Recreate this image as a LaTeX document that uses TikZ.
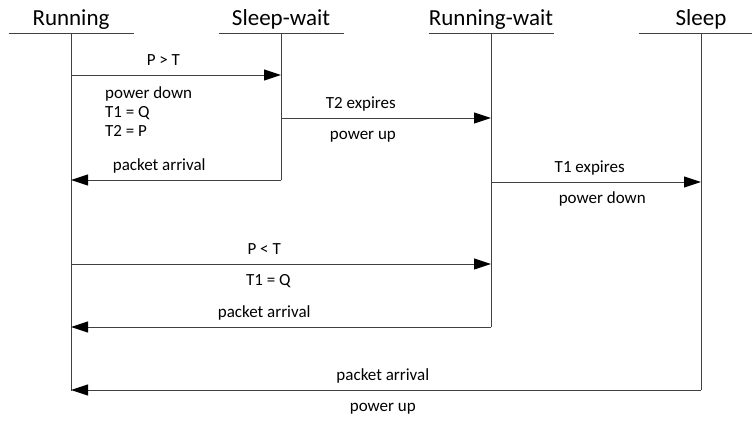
\documentclass[tikz,border=0pt]{standalone}
\usepackage{fontspec}
\setmainfont{Carlito}
\usetikzlibrary{arrows.meta,positioning}

\begin{document}
\begin{tikzpicture}[x=1pt,y=-1pt,>={Triangle[length=17pt,width=11pt,black]},node distance=210pt,
  hdr/.style={font=\fontsize{23}{28}\selectfont,text height=16pt,text depth=5pt,inner sep=0pt},
  lbl/.style={font=\fontsize{17}{19}\selectfont,text height=12pt,text depth=4pt,inner sep=2pt},
  blk/.style={font=\fontsize{17}{19}\selectfont,inner sep=2pt,align=left},
  life/.style={draw=black!75,line width=1pt},
  msg/.style={life,->}]
  \useasboundingbox (0,0) rectangle (752,421);

  % state headers
  \node[hdr]                 (run)   at (71,19.5) {Running};
  \node[hdr, right of=run]   (swait) {Sleep-wait};
  \node[hdr, right of=swait] (rwait) {Running-wait};
  \node[hdr, right of=rwait] (sleep) {Sleep};

  % bars and lifelines
  \foreach \n/\e in {run/391,swait/180,rwait/327,sleep/390}{
    \draw[life] (\n |- 0,33) ++(-62.5,0) -- ++(125,0);
    \draw[life] (\n |- 0,33) -- (\n |- 0,\e);
  }

  % transitions
  \draw[msg] (run |- 0,75) -- node[lbl,above=3pt,pos=0.44] {P > T} (swait |- 0,75);
  \node[blk, anchor=north west] (pdown) at (103,84) {power down\\T1 = Q\\T2 = P};
  \draw[msg] (swait |- 0,180) -- node[lbl,above=3pt,pos=0.58] {packet arrival} (run |- 0,180);

  \draw[msg] (swait |- 0,118) -- node[lbl,above=3pt,pos=0.38] {T2 expires}
                                  node[lbl,below=7pt,pos=0.39] {power up} (rwait |- 0,118);
  \draw[msg] (rwait |- 0,182) -- node[lbl,above=3pt,pos=0.47] {T1 expires}
                                  node[lbl,below=7pt,pos=0.53] {power down} (sleep |- 0,182);

  \draw[msg] (run |- 0,264) -- node[lbl,above=3pt,pos=0.46] {P < T}
                                node[lbl,below=7pt,pos=0.47] {T1 = Q} (rwait |- 0,264);
  \draw[msg] (rwait |- 0,327) -- node[lbl,above=3pt,pos=0.54] {packet arrival} (run |- 0,327);

  \draw[msg] (sleep |- 0,390) -- node[lbl,above=3pt,pos=0.505] {packet arrival}
                                  node[lbl,below=7pt,pos=0.505] {power up} (run |- 0,390);
\end{tikzpicture}
\end{document}
